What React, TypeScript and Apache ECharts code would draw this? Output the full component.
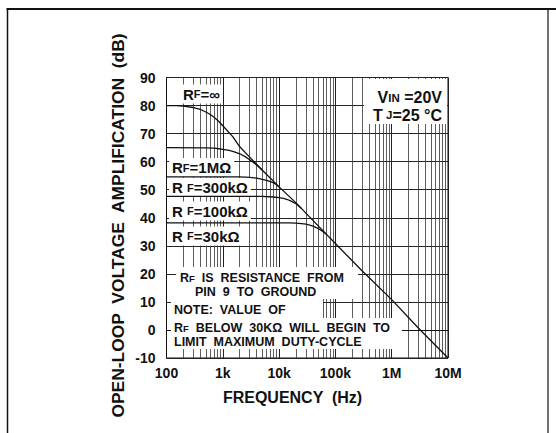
import React, { useEffect, useRef } from "react";
import * as echarts from "echarts";

// ---- data (Hz, dB) ----
const freqInf = [100, 150, 200, 300, 400, 500, 600, 700, 850, 1000, 1500, 2000, 3000, 5000, 10000, 20000, 50000, 100000, 300000, 1000000, 3000000, 10000000];
const gainInf = [80, 80, 79.8, 79.3, 78.6, 77.7, 76.8, 75.8, 74.3, 72.8, 68.9, 65.3, 61.6, 57, 51, 45.3, 37, 30.8, 21, 10.8, 0.6, -10];

const freq1M = [100, 500, 700, 850, 1000, 1300, 1600, 2000, 2500, 3000, 3500, 4000, 5000];
const gain1M = [65, 64.9, 64.8, 64.6, 64.4, 64.0, 63.5, 62.8, 61.8, 60.7, 59.7, 58.8, 57];

const freq300k = [100, 2000, 2500, 3000, 4000, 5000, 6000, 7000, 8000, 9000, 10000];
const gain300k = [54.6, 54.6, 54.5, 54.4, 54.1, 53.7, 53.3, 52.9, 52.4, 51.8, 51];

const freq100k = [100, 5000, 8000, 10000, 12000, 14000, 16000, 18000, 20000, 25000];
const gain100k = [47.6, 47.6, 47.4, 47.2, 46.9, 46.5, 46.0, 45.5, 45.0, 43.3];

const freq30k = [100, 15000, 20000, 25000, 30000, 35000, 40000, 50000, 60000, 70000];
const gain30k = [38.2, 38.2, 38.1, 37.9, 37.7, 37.4, 37.0, 36.1, 35.1, 34.0];

const xTickExponents = [2, 3, 4, 5, 6, 7];
const xTickNames = ["100", "1k", "10k", "100k", "1M", "10M"];
const decadeStarts = [100, 1000, 10000, 100000, 1000000];
const minorMultipliers = [2, 3, 4, 5, 6, 7, 8, 9];

const font = "'Liberation Sans', Arial, Helvetica, sans-serif";

function pairs(f: number[], g: number[]) {
  return f.map((v, i) => [v, g[i]]);
}

export default function App() {
  const ref = useRef<HTMLDivElement>(null);
  useEffect(() => {
    if (!ref.current) return;
    const chart = echarts.init(ref.current, null, { renderer: "svg" });
    const minorLines = decadeStarts.flatMap((d) => minorMultipliers.map((m) => ({ xAxis: d * m })));
    const curveStyle = { color: "#111", width: 1.3 };
    const mkSeries = (name: string, f: number[], g: number[], extra: any = {}) => ({
      name,
      type: "line",
      data: pairs(f, g),
      showSymbol: false,
      symbol: "none",
      smooth: false,
      lineStyle: curveStyle,
      itemStyle: { color: "#111" },
      silent: true,
      z: 2,
      ...extra,
    });
    const rich = {
      R: { fontSize: 15, fontFamily: font, fontWeight: "bold", fill: "#111" },
      s: { fontSize: 11, fontFamily: font, fontWeight: "bold", fill: "#111" },
      n: { fontSize: 12.5, lineHeight: 12, fontFamily: font, fontWeight: "bold", fill: "#111" },
      ns: { fontSize: 9.5, lineHeight: 12, fontFamily: font, fontWeight: "bold", fill: "#111" },
      V: { fontSize: 16, lineHeight: 15, fontFamily: font, fontWeight: "bold", fill: "#111" },
      vs: { fontSize: 11.5, lineHeight: 15, fontFamily: font, fontWeight: "bold", fill: "#111" },
    };
    const label = (text: string, x: number, y: number) => ({
      type: "text",
      x,
      y,
      z: 1,
      style: {
        text,
        rich,
        align: "left",
        verticalAlign: "middle",
        backgroundColor: "#fff",
        padding: [2, 3],
      },
    });
    const noteText = (text: string, x: number, y: number) => ({
      type: "text",
      x,
      y,
      z: 1,
      style: { text, rich, align: "left", verticalAlign: "middle" },
    });
    const whiteRect = (x: number, y: number, w: number, h: number) => ({
      type: "rect",
      z: 1,
      shape: { x, y, width: w, height: h },
      style: { fill: "#fff" },
    });

    chart.setOption({
      animation: false,
      backgroundColor: "#fff",
      grid: { left: 166.5, right: 108, top: 77.5, bottom: 75, show: true, borderColor: "#111", borderWidth: 1, backgroundColor: "transparent" },
      xAxis: {
        type: "log",
        logBase: 10,
        min: 100,
        max: 10000000,
        splitNumber: 5,
        axisLine: { show: true, lineStyle: { color: "#111", width: 1 } },
        axisTick: { show: false },
        axisLabel: {
          margin: 8,
          color: "#111",
          fontSize: 14,
          fontWeight: "bold",
          fontFamily: font,
          formatter: (v: number) => {
            const e = Math.round(Math.log10(v));
            const i = xTickExponents.indexOf(e);
            return i >= 0 ? xTickNames[i] : "";
          },
        },
        splitLine: { show: true, lineStyle: { color: "#222", width: 1 } },
      },
      yAxis: {
        type: "value",
        min: -10,
        max: 90,
        interval: 10,
        axisLine: { show: true, lineStyle: { color: "#111", width: 1 } },
        axisTick: { show: false },
        axisLabel: { margin: 11, color: "#111", fontSize: 14, fontWeight: "bold", fontFamily: font },
        splitLine: { show: true, lineStyle: { color: "#222", width: 1 } },
      },
      series: [
        mkSeries("RF=inf", freqInf, gainInf, {
          markLine: {
            silent: true,
            symbol: "none",
            z: 0,
            animation: false,
            label: { show: false },
            emphasis: { disabled: true },
            lineStyle: { color: "#333", width: 0.8, type: "solid" },
            data: minorLines,
          },
        }),
        mkSeries("RF=1M", freq1M, gain1M),
        mkSeries("RF=300k", freq300k, gain300k),
        mkSeries("RF=100k", freq100k, gain100k),
        mkSeries("RF=30k", freq30k, gain30k),
      ],
      graphic: {
        elements: [
          // frame
          { type: "line", z: 1, shape: { x1: 6.5, y1: 9, x2: 556, y2: 9 }, style: { stroke: "#111", lineWidth: 2 } },
          { type: "line", z: 1, shape: { x1: 7.5, y1: 9, x2: 7.5, y2: 433 }, style: { stroke: "#111", lineWidth: 1.5 } },
          { type: "line", z: 1, shape: { x1: 548, y1: 9, x2: 548, y2: 433 }, style: { stroke: "#111", lineWidth: 1.2 } },
          // axis titles
          {
            type: "text",
            x: 119,
            y: 225.5,
            rotation: Math.PI / 2,
            scaleX: 1.09,
            z: 1,
            style: {
              text: "OPEN-LOOP  VOLTAGE  AMPLIFICATION  (dB)",
              font: `bold 16px ${font}`,
              fill: "#111",
              align: "center",
              verticalAlign: "middle",
            },
          },
          {
            type: "text",
            x: 292.5,
            y: 397.5,
            z: 1,
            style: {
              text: "FREQUENCY  (Hz)",
              font: `bold 16px ${font}`,
              fill: "#111",
              align: "center",
              verticalAlign: "middle",
            },
          },
          // curve labels
          label("{R|R}{s|F}{R|=∞}", 180, 94),
          label("{R|R}{s|F}{R|=1MΩ}", 169, 167.5),
          label("{R|R }{s|F}{R|=300kΩ}", 169, 187.5),
          label("{R|R }{s|F}{R|=100kΩ}", 169, 211),
          label("{R|R }{s|F}{R|=30kΩ}", 169, 236),
          // conditions box
          whiteRect(364, 79, 83, 45),
          { type: "text", x: 442, y: 97.5, z: 1, style: { text: "{V|V}{vs|IN}{V| =20V}", rich, align: "right", verticalAlign: "middle" } },
          { type: "text", x: 442, y: 115, z: 1, style: { text: "{V|T}{vs| J}{V|=25 °C}", rich, align: "right", verticalAlign: "middle" } },
          // note block
          whiteRect(176, 267, 182, 32),
          whiteRect(171, 299, 152, 19),
          whiteRect(171, 318, 231, 31),
          noteText("{n|R}{ns|F}{n|  IS  RESISTANCE  FROM}", 180, 278),
          noteText("{n|PIN  9  TO  GROUND}", 195, 291.5),
          noteText("{n|NOTE:  VALUE  OF}", 174, 310),
          noteText("{n|R}{ns|F}{n|  BELOW  30KΩ  WILL  BEGIN  TO}", 174, 328),
          noteText("{n|LIMIT  MAXIMUM  DUTY-CYCLE}", 174, 342),
        ],
      },
    });
    return () => chart.dispose();
  }, []);
  return <div ref={ref} style={{ position: "absolute", left: 0, top: 0, width: 556, height: 433 }} />;
}
